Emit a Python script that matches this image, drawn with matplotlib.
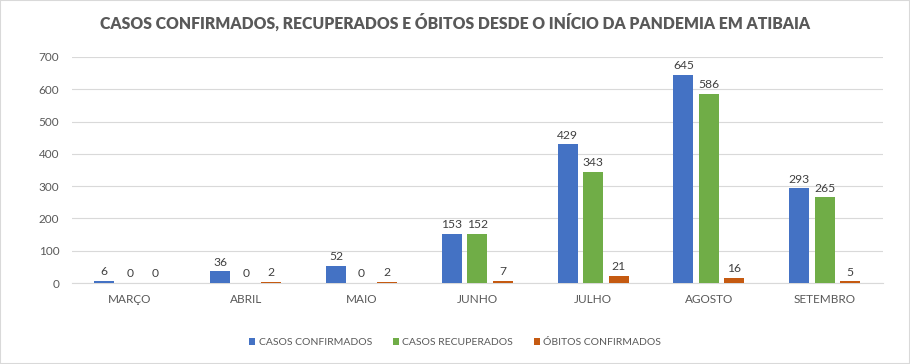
import matplotlib.pyplot as plt
import numpy as np

plt.rcParams['font.family'] = ['Lato', 'DejaVu Sans']

months = ["MARÇO", "ABRIL", "MAIO", "JUNHO", "JULHO", "AGOSTO", "SETEMBRO"]
confirmados = [6, 36, 52, 153, 429, 645, 293]
recuperados = [0, 0, 0, 152, 343, 586, 265]
obitos = [0, 2, 2, 7, 21, 16, 5]

series = [
    ("CASOS CONFIRMADOS", confirmados, "#4472C4"),
    ("CASOS RECUPERADOS", recuperados, "#70AD47"),
    ("ÓBITOS CONFIRMADOS", obitos, "#C55A11"),
]

fig = plt.figure(figsize=(9.1, 3.64), dpi=100)
ax = fig.add_axes([0.079, 0.2225, 0.891, 0.621])

x = np.arange(len(months))
width = 0.173
offset = 0.22
for i, (name, vals, color) in enumerate(series):
    pos = x + (i - 1) * offset
    ax.bar(pos, vals, width, color=color, label=name, zorder=3)
    for p, v in zip(pos, vals):
        ax.text(p, v + 12, str(v), ha="center", va="bottom", fontsize=8.7, color="#404040")

ax.set_xlim(-0.5, len(months) - 0.5)
ax.set_ylim(0, 700)
ax.set_yticks(range(0, 701, 100))
ax.set_xticks(x)
ax.set_xticklabels(months)
ax.yaxis.grid(True, color="#D9D9D9", linewidth=0.8, zorder=0)
ax.tick_params(length=0, labelsize=8.5, colors="#595959")
ax.tick_params(axis="x", pad=8)
ax.tick_params(axis="y", pad=9)
for s in ["top", "right", "left"]:
    ax.spines[s].set_visible(False)
ax.spines["bottom"].set_color("#D9D9D9")

fig.suptitle("CASOS CONFIRMADOS, RECUPERADOS E ÓBITOS DESDE O INÍCIO DA PANDEMIA EM ATIBAIA",
             x=0.5, y=0.962, fontsize=11.3, fontweight="heavy", color="#595959")

leg = fig.legend(loc="center", bbox_to_anchor=(0.5, 0.058), ncol=3, frameon=False,
                 fontsize=7.5, handlelength=0.6, handleheight=0.6, columnspacing=2.0,
                 handletextpad=0.3)
for t in leg.get_texts():
    t.set_color("#595959")

fig.patches.append(plt.Rectangle((0, 0), 1, 1, transform=fig.transFigure, fill=False,
                                 edgecolor="#D9D9D9", linewidth=1.5))

fig.savefig("out.png", dpi=100)
